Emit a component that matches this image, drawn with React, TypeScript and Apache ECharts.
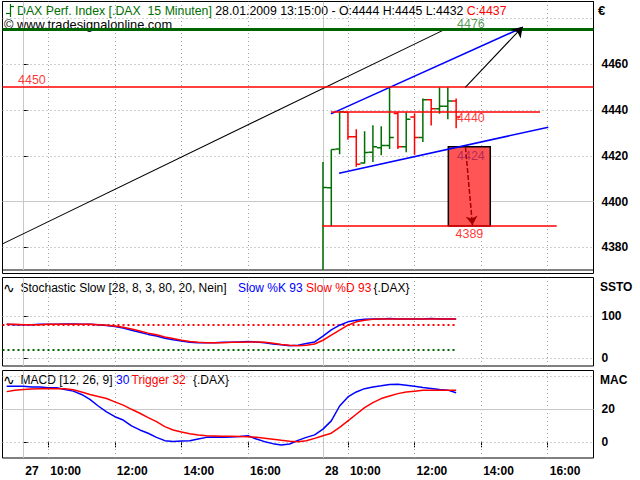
import { useEffect, useRef } from "react";
import * as echarts from "echarts";

const FONT = '"Liberation Sans", Arial, sans-serif';

// slot index: 0 = 27.01. 09:15, 36 = 28.01. 09:15 (15-minute bars, 36 per day)
const X_MIN = -2.5;
const X_MAX = 68.5;
const tickIdx = [0, 3, 11, 19, 27, 36, 39, 47, 55, 63];
const tickLabels = ["27", "10:00", "12:00", "14:00", "16:00", "28", "10:00", "12:00", "14:00", "16:00"];
const hourIdx = [3, 11, 19, 27, 39, 47, 55, 63];
const dayIdx = [0, 36];

// price bars of 28.01.2009 from 09:15 to 13:15
const barStart = 36;
const priceOpen = [4366, 4406, 4423, 4439, 4428.3, 4416.8, 4421.5, 4423.5, 4424.5, 4438.5, 4424, 4437, 4428, 4444.5, 4440.6, 4441.7, 4444];
const priceHigh = [4417.3, 4422.8, 4439.3, 4439, 4431.6, 4430.7, 4433.4, 4432.9, 4450, 4439, 4439, 4438.5, 4445, 4444.8, 4450, 4450, 4445];
const priceLow = [4360, 4389.2, 4420.7, 4427, 4415.2, 4416.6, 4417.3, 4420.2, 4423, 4423, 4421.5, 4420.5, 4426, 4433.3, 4438.4, 4436, 4432];
const priceClose = [4406.1, 4422.8, 4439.3, 4428.3, 4416.3, 4421.4, 4424, 4424.5, 4428, 4424, 4436, 4428, 4444.5, 4440.6, 4441.7, 4444, 4437];

// indicators, from slot -2 to slot 52
const indStart = -2;
const slowK = [80, 79, 79, 79, 80, 80, 80, 81, 81, 80, 80, 79, 77, 75, 71, 66, 61, 56, 52, 47, 43, 40, 37, 36, 36, 36, 37, 37, 38, 39, 38, 36, 33, 31, 29, 30, 34, 38, 52, 67, 78, 86, 90, 92, 93, 93, 94, 93, 93, 93, 93, 94, 93, 93, 93];
const slowD = [80, 80, 79, 79, 79, 80, 80, 80, 80, 80, 80, 79, 78, 76, 73, 69, 64, 59, 55, 50, 46, 42, 39, 37, 36, 36, 36, 37, 37, 38, 38, 37, 35, 32, 30, 29, 30, 33, 42, 54, 66, 78, 86, 90, 92, 93, 93, 93, 93, 93, 93, 93, 93, 93, 93];
const macdLine = [34, 34, 34, 33.5, 33.5, 33, 33, 32, 31, 29, 26, 22, 18.5, 15.5, 13.5, 10, 7.5, 5.5, 3, 1, 0.5, 0.8, 1, 2, 3, 3.2, 3, 3.2, 3.5, 4, 2, 0.4, -0.8, -1.6, -1, 1.2, 3, 4.5, 8, 13, 22, 27.5, 30.5, 32.5, 33.5, 34.2, 35, 35.2, 34.6, 34, 33.2, 32.6, 32, 31.6, 30];
const triggerLine = [30.7, 31.5, 32, 32.3, 32.5, 32.6, 32.5, 32.4, 31.8, 30.5, 29, 27.8, 26.5, 24.5, 22.5, 20, 17.6, 15, 12.5, 9.5, 7.5, 6.2, 5.2, 4.5, 4, 3.8, 3.6, 3.6, 3.5, 3.4, 3, 2.4, 1.8, 1.2, 0.7, 0.4, 1, 2.4, 4, 5.5, 9, 13, 17, 21, 24, 26.5, 28, 29.5, 30.5, 31, 31.5, 31.5, 31.5, 31.5, 31.5];

// axis ticks and grid lines
const priceTicks = [4380, 4400, 4420, 4440, 4460];
const priceGridDotted = [4380, 4420, 4440, 4460, 4480];
const priceGridSolid = [4400];
const stochTicks = [0, 100];
const stochGridDotted = [0, 100];
const stochUpper = 80;
const stochLower = 20;
const macdTicks = [0, 20];
const macdGridDotted = [0, 40];
const macdGridSolid = [20];

// drawing tools on the price chart: [slotFrom, priceFrom, slotTo, priceTo]
const longTrend = [-2.5, 4381.5, 50.9, 4475.7];
const upperChannel = [36.96, 4438.3, 59.99, 4476.1];
const lowerChannel = [37.93, 4412.35, 63.07, 4432.5];
const level4476 = [-2.5, 4475.4, 68.5, 4475.4];
const level4450 = [-2.5, 4450, 68.5, 4450];
const level4440 = [36.96, 4439.3, 62.07, 4439.3];
const level4389 = [35.92, 4389.3, 64.08, 4389.3];
const targetBox = [51.06, 4424.0, 56.1, 4389.3];
const upArrow = [53.1, 4449.9, 59.99, 4476.4];
const downArrow = [53.12, 4423.8, 53.96, 4389.7];
const levelLabelText = ["4476", "4450", "4440", "4424", "4389"];
const levelLabelSlot = [52.1, -0.64, 52.1, 52.1, 51.92];
const levelLabelPrice = [4477.6, 4453.1, 4436.4, 4420.1, 4385.8];
const levelLabelColor = ["#2f7f2f", "#ff0000", "#ff0000", "#a01e5a", "#ff0000"];

const GREEN = "#006e00";
const RED = "#ff0000";
const BLUE = "#0000ff";

function seg(a: number[], style: any) {
  return { coords: [[a[0], a[1]], [a[2], a[3]]], lineStyle: { opacity: 1, ...style } };
}

function gridLines(yMin: number, yMax: number, dotted: number[], solid: number[]) {
  const dot = { color: "#a0a0a0", width: 1, type: [1, 3] };
  const sol = { color: "#c8c8c8", width: 1, type: "solid" };
  const out: any[] = [];
  hourIdx.forEach((i) => out.push(seg([i, yMin, i, yMax], dot)));
  dayIdx.forEach((i) => out.push(seg([i, yMin, i, yMax], sol)));
  dotted.forEach((v) => out.push(seg([X_MIN, v, X_MAX, v], dot)));
  solid.forEach((v) => out.push(seg([X_MIN, v, X_MAX, v], sol)));
  return out;
}

export default function App() {
  const ref = useRef<HTMLDivElement>(null);
  useEffect(() => {
    if (!ref.current) return;
    const chart = echarts.init(ref.current, undefined, { renderer: "svg" });

    const Y0 = [4370.08, 4487.45];
    const Y1 = [-19.6, 192.1];
    const Y2 = [-9.5, 43.5];

    const ohlc = priceOpen.map((o, i) => [barStart + i, o, priceHigh[i], priceLow[i], priceClose[i]]);
    const ind = (arr: number[]) => arr.map((v, i) => [indStart + i, v]);

    const hiddenX = (gi: number) => ({
      type: "value", gridIndex: gi, min: X_MIN, max: X_MAX, show: false,
    });
    const rightY = (gi: number, range: number[], ticks: number[]) => ({
      type: "value", gridIndex: gi, position: "right", min: range[0], max: range[1],
      axisLine: { show: false },
      splitLine: { show: false },
      axisTick: { show: true, customValues: ticks, length: 5, lineStyle: { color: "#000" } },
      axisLabel: {
        show: true, customValues: ticks, margin: 8, color: "#000", fontSize: 12, fontWeight: "bold", fontFamily: FONT,
        formatter: (v: number) => String(v),
      },
    });
    const gridBase = { left: 2.5, width: 591, show: true, borderColor: "#000", borderWidth: 1 };

    const txt = (x: number, y: number, text: string, fill: string, extra: any = {}) => ({
      type: "text", x, y, z: 1,
      style: { text, fill, fontSize: 12, fontFamily: FONT, verticalAlign: "middle", ...extra },
    });
    const gline = (x1: number, y1: number, x2: number, y2: number, stroke: string) => ({
      type: "line", z: 1, shape: { x1, y1, x2, y2 }, style: { stroke, lineWidth: 1.2 },
    });

    const option: any = {
      animation: false,
      backgroundColor: "#ffffff",
      grid: [
        { ...gridBase, top: 1.5, height: 268.5 },
        { ...gridBase, top: 277.5, height: 88.5 },
        { ...gridBase, top: 370.5, height: 87.5 },
      ],
      xAxis: [
        hiddenX(0),
        hiddenX(1),
        {
          type: "value", gridIndex: 2, min: X_MIN, max: X_MAX,
          axisLine: { show: false },
          splitLine: { show: false },
          axisTick: { show: true, customValues: tickIdx, length: 5, lineStyle: { color: "#000" } },
          axisLabel: {
            show: true, customValues: tickIdx, align: "left", margin: 7, padding: [0, 0, 0, 2],
            color: "#000", fontSize: 12, fontWeight: "bold", fontFamily: FONT,
            formatter: (v: number) => {
              const k = tickIdx.indexOf(Math.round(v));
              return k >= 0 ? tickLabels[k] : "";
            },
          },
        },
      ],
      yAxis: [rightY(0, Y0, priceTicks), rightY(1, Y1, stochTicks), rightY(2, Y2, macdTicks)],
      graphic: [
        // frame of price pane
        { type: "rect", z: 1, shape: { x: 2.5, y: 1.5, width: 591, height: 272 }, style: { fill: "none", stroke: "#000", lineWidth: 1 } },
        // title icon
        gline(10.5, 4, 10.5, 17, GREEN),
        gline(6, 13.5, 10.5, 13.5, GREEN),
        gline(10.5, 6.5, 14, 6.5, GREEN),
        {
          type: "text", x: 17, y: 11, z: 1,
          style: {
            text: "{g|DAX Perf. Index [.DAX  15 Minuten]} {k|28.01.2009 13:15:00 - O:4444 H:4445 L:4432} {r|C:4437}",
            fontSize: 12.3, fontFamily: FONT, verticalAlign: "middle", fill: "#000",
            rich: {
              g: { fill: GREEN, fontSize: 12.3, fontFamily: FONT },
              k: { fill: "#000", fontSize: 12.3, fontFamily: FONT },
              r: { fill: RED, fontSize: 12.3, fontFamily: FONT },
            },
          },
        },
        txt(4, 24.5, "\u00a9 www.tradesignalonline.com", "#000", { fontSize: 12.8 }),
        txt(598, 10, "\u20ac", "#000", { fontSize: 13, fontWeight: "bold" }),
        // stochastic legend
        txt(3, 288, "\u223f", "#000", { fontSize: 14, fontFamily: "DejaVu Sans" }),
        txt(20.5, 288, "Stochastic Slow [28, 8, 3, 80, 20, Nein]", "#000"),
        txt(238, 288, "Slow %K 93", BLUE),
        txt(306, 288, "Slow %D 93", RED),
        txt(373.5, 288, "{.DAX}", "#000"),
        txt(600, 287, "SSTO", "#000", { fontWeight: "bold" }),
        // MACD legend
        txt(3, 380, "\u223f", "#000", { fontSize: 14, fontFamily: "DejaVu Sans" }),
        txt(20.5, 380, "MACD [12, 26, 9]", "#000"),
        txt(116, 380, "30", BLUE),
        txt(131.5, 380, "Trigger 32", RED),
        txt(193, 380, "{.DAX}", "#000"),
        txt(600, 380, "MAC", "#000", { fontWeight: "bold" }),
      ],
      series: [
        // grid lines
        { type: "lines", coordinateSystem: "cartesian2d", xAxisIndex: 0, yAxisIndex: 0, z: 1, silent: true, symbol: "none",
          data: gridLines(Y0[0], Y0[1], priceGridDotted, priceGridSolid) },
        { type: "lines", coordinateSystem: "cartesian2d", xAxisIndex: 1, yAxisIndex: 1, z: 1, silent: true, symbol: "none",
          data: gridLines(Y1[0], Y1[1], stochGridDotted, []) },
        { type: "lines", coordinateSystem: "cartesian2d", xAxisIndex: 2, yAxisIndex: 2, z: 1, silent: true, symbol: "none",
          data: gridLines(Y2[0], Y2[1], macdGridDotted, macdGridSolid) },
        // target box
        {
          type: "custom", xAxisIndex: 0, yAxisIndex: 0, z: 2, silent: true,
          data: [targetBox],
          renderItem: (_p: any, api: any) => {
            const a = api.coord([api.value(0), api.value(1)]);
            const b = api.coord([api.value(2), api.value(3)]);
            return {
              type: "rect",
              shape: { x: a[0], y: a[1], width: b[0] - a[0], height: b[1] - a[1] },
              style: { fill: "#ff5555", stroke: "#000", lineWidth: 1.5 },
            };
          },
        },
        // OHLC bars
        {
          type: "custom", xAxisIndex: 0, yAxisIndex: 0, z: 3, clip: true, silent: true,
          dimensions: ["x", "open", "high", "low", "close"],
          encode: { x: 0, y: [1, 2, 3, 4] },
          data: ohlc,
          renderItem: (_p: any, api: any) => {
            const x = api.value(0);
            const o = api.value(1), h = api.value(2), l = api.value(3), c = api.value(4);
            const pO = api.coord([x, o]);
            const pH = api.coord([x, h]);
            const pL = api.coord([x, l]);
            const pC = api.coord([x, c]);
            const color = c >= o ? GREEN : RED;
            const st = { stroke: color, lineWidth: 1.5 };
            return {
              type: "group",
              children: [
                { type: "line", shape: { x1: pH[0], y1: pH[1], x2: pL[0], y2: pL[1] }, style: st },
                { type: "line", shape: { x1: pO[0] - 4.2, y1: pO[1], x2: pO[0], y2: pO[1] }, style: st },
                { type: "line", shape: { x1: pC[0], y1: pC[1], x2: pC[0] + 4.2, y2: pC[1] }, style: st },
              ],
            };
          },
        },
        // drawing tools
        {
          type: "lines", coordinateSystem: "cartesian2d", xAxisIndex: 0, yAxisIndex: 0, z: 4, silent: true, symbol: "none",
          data: [
            seg(longTrend, { color: "#000", width: 1.1 }),
            seg(upperChannel, { color: BLUE, width: 1.5 }),
            seg(lowerChannel, { color: BLUE, width: 1.5 }),
            seg(level4450, { color: RED, width: 1.5 }),
            seg(level4440, { color: RED, width: 1.5 }),
            seg(level4389, { color: RED, width: 1.5 }),
            seg(level4476, { color: "#006400", width: 3 }),
          ],
        },
        {
          type: "lines", coordinateSystem: "cartesian2d", xAxisIndex: 0, yAxisIndex: 0, z: 5, silent: true,
          symbol: ["none", "arrow"], symbolSize: 10,
          data: [seg(upArrow, { color: "#000", width: 1.1 })],
        },
        {
          type: "lines", coordinateSystem: "cartesian2d", xAxisIndex: 0, yAxisIndex: 0, z: 5, silent: true,
          symbol: ["none", "arrow"], symbolSize: 9,
          data: [seg(downArrow, { color: "#a00000", width: 1.5, type: [5, 2] })],
        },
        // level labels
        {
          type: "scatter", xAxisIndex: 0, yAxisIndex: 0, z: 6, silent: true, symbolSize: 0,
          data: levelLabelText.map((t, i) => ({
            value: [levelLabelSlot[i], levelLabelPrice[i]],
            label: { show: true, position: "right", distance: 0, formatter: t, color: levelLabelColor[i], fontSize: 12.5, fontFamily: FONT },
          })),
        },
        // stochastic
        {
          type: "lines", coordinateSystem: "cartesian2d", xAxisIndex: 1, yAxisIndex: 1, z: 2, silent: true, symbol: "none",
          data: [
            seg([X_MIN, stochUpper, 52, stochUpper], { color: RED, width: 2, type: [2, 3] }),
            seg([X_MIN, stochLower, 52, stochLower], { color: "#006400", width: 2, type: [2, 3] }),
          ],
        },
        { type: "line", xAxisIndex: 1, yAxisIndex: 1, z: 3, showSymbol: false, silent: true, data: ind(slowK), lineStyle: { color: BLUE, width: 1.5 } },
        { type: "line", xAxisIndex: 1, yAxisIndex: 1, z: 4, showSymbol: false, silent: true, data: ind(slowD), lineStyle: { color: RED, width: 1.5 } },
        // MACD
        { type: "line", xAxisIndex: 2, yAxisIndex: 2, z: 4, showSymbol: false, silent: true, data: ind(triggerLine), lineStyle: { color: RED, width: 1.5 } },
        { type: "line", xAxisIndex: 2, yAxisIndex: 2, z: 3, showSymbol: false, silent: true, data: ind(macdLine), lineStyle: { color: BLUE, width: 1.5 } },
      ],
    };
    chart.setOption(option);
    return () => chart.dispose();
  }, []);
  return (
    <div
      ref={ref}
      style={{ position: "fixed", left: 0, top: 0, width: 640, height: 480, background: "#fff" }}
    />
  );
}
